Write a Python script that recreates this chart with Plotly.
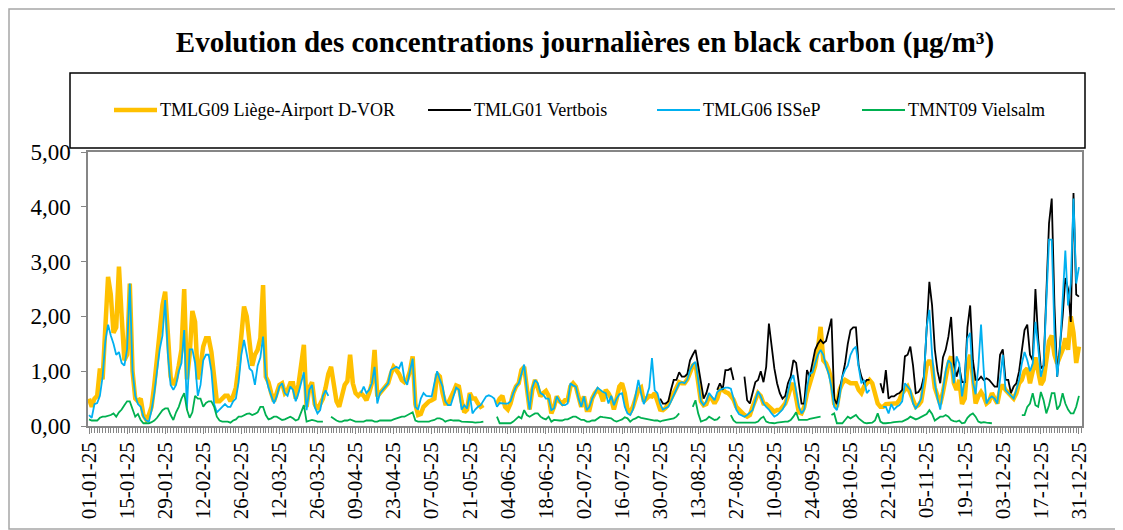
import pandas as pd
import plotly.graph_objects as go

# ── data: daily black carbon, 2025 (µg/m³) ─────────────────────────────────
DATES = pd.date_range("2025-01-01", "2025-12-31", freq="D")

SERIES_NAMES = [
    "TMLG09 Liège-Airport D-VOR",
    "TMLG01 Vertbois",
    "TMLG06 ISSeP",
    "TMNT09 Vielsalm",
]

LIEGE_AIRPORT = [
    0.5, 0.35, 0.5, 0.55, 1.05, 0.85, 1.8, 2.72, 2.4, 1.7, 1.8, 2.91, 2.0, 1.2, 1.3, 2.6, 1.0, 0.5, 0.45, 0.5, 0.2, 0.12, 0.2, 0.35, 0.75, 1.2, 1.6, 2.2, 2.45, 1.6, 0.9,
    0.75, 0.85, 1.1, 1.4, 2.5, 0.85, 1.3, 2.1, 1.9, 0.85, 1.1, 1.45, 1.6, 1.6, 1.35, 0.8, 0.45, 0.45, 0.5, 0.55, 0.55, 0.45, 0.55, 0.7, 1.1, 1.6, 2.18, 2.0,
    1.5, 1.1, 1.3, 1.39, 1.6, 2.57, 0.9, 0.8, 0.6, 0.45, 0.6, 0.75, 0.78, 0.6, 0.65, 0.78, 0.78, 0.5, 0.75, 1.2, 1.48, 0.35, 0.7, 0.8, 0.4, 0.3, 0.4, 0.5, 0.7, 0.95, 1.08,
    0.75, 0.45, 0.35, 0.6, 0.75, 0.82, 1.3, 0.78, 0.6, 0.55, 0.6, 0.55, 0.47, 0.6, 0.78, 1.39, 0.54, 0.6, 0.66, 0.72, 0.78, 0.95, 1.08, 1.02, 0.95, 0.84, 0.8, 0.85, 1.0, 1.27,
    0.4, 0.2, 0.22, 0.35, 0.4, 0.45, 0.47, 0.5, 0.95, 0.9, 0.6, 0.41, 0.41, 0.5, 0.62, 0.74, 0.72, 0.45, 0.25, 0.3, 0.6, 0.5, 0.5, 0.41, 0.35, 0.38, None, None, None, None, 0.4,
    0.5, 0.55, 0.35, 0.3, 0.41, 0.6, 0.72, 0.78, 1.02, 1.08, 0.6, 0.3, 0.66, 0.84, 0.7, 0.54, 0.6, 0.64, 0.55, 0.23, 0.35, 0.54, 0.45, 0.41, 0.47, 0.47, 0.72, 0.78, 0.72, 0.5,
    0.35, 0.54, 0.29, 0.29, 0.5, 0.6, 0.66, 0.6, 0.45, 0.66, 0.6, 0.5, 0.3, 0.5, 0.72, 0.78, 0.6, 0.3, 0.25, 0.35, 0.5, 0.66, 0.7, 0.45, 0.5, 0.55, 0.54, 0.6, 0.45, 0.3, 0.29,
    0.33, 0.4, 0.5, 0.6, 0.72, 0.8, 0.78, 0.78, 0.85, 1.0, 1.1, 1.14, 0.8, 0.45, 0.38, 0.4, 0.54, 0.5, 0.41, 0.5, 0.66, 0.66, 0.62, 0.6, 0.55, 0.48, 0.35, 0.29, 0.23, 0.2, 0.17,
    0.2, 0.35, 0.47, 0.6, 0.55, 0.41, 0.4, 0.35, 0.29, 0.26, 0.29, 0.29, 0.35, 0.41, 0.54, 0.7, 0.78, 0.45, 0.25, 0.23, 0.35, 0.6, 0.78, 0.9, 1.1, 1.4, 1.81, 1.2, 1.14, 1.02,
    0.84, 0.41, 0.35, 0.66, 0.78, 0.84, 0.8, 0.78, 0.78, 0.78, 0.66, 0.6, 0.72, 0.78, 0.84, 0.78, 0.6, 0.41, 0.35, 0.35, 0.4, 0.41, 0.41, 0.41, 0.41, 0.48, 0.6, 0.66, 0.72, 0.6, 0.47,
    0.35, 0.38, 0.45, 0.75, 1.1, 1.2, 1.1, 0.7, 0.55, 0.4, 0.62, 0.9, 1.14, 1.27, 0.78, 0.66, 0.84, 0.4, 0.5, 1.1, 1.3, 0.9, 0.41, 0.54, 0.62, 0.54, 0.41, 0.45, 0.6, 0.5,
    0.41, 0.66, 0.75, 0.66, 0.6, 0.54, 0.5, 0.6, 0.78, 0.84, 1.0, 1.05, 0.78, 1.0, 1.25, 1.0, 0.75, 0.84, 1.2, 1.55, 1.65, 1.3, 1.14, 1.27, 1.39, 1.6, 1.39, 2.0, 1.7, 1.15, 1.45,
]

VERTBOIS = [None] * 210 + [
    0.5, 0.41,
    0.41, 0.45, 0.66, 0.84, 0.84, 0.98, 0.9, 0.9, 0.95, 1.2, 1.3, 1.39, 1.1, 0.8, 0.5, 0.6, 0.78, None, None, 0.66, 0.78, 0.66, 1.02, 1.02, 1.05, 0.84, None, None, None, 0.9, 0.47,
    0.41, 0.6, 0.8, 0.84, 1.0, 0.8, 1.08, 1.87, 1.45, 1.05, 0.78, 0.6, 0.5, 0.55, 0.78, 0.9, 1.2, 1.15, 0.78, 0.41, 0.41, 1.02, 0.9, 1.14, 1.39, 1.5, 1.57, 1.51, 1.55, 1.75,
    1.96, 0.5, 0.4, 0.66, 0.9, 1.14, 1.5, 1.75, 1.8, 1.8, 1.1, 0.9, 0.78, 0.84, 0.84, None, None, None, 0.78, 0.6, 1.02, 0.5, 0.54, 0.54, 0.58, 0.6, 0.66, 1.27, 1.3, 1.45, 1.1,
    0.6, 0.62, 0.7, 0.9, 1.87, 2.63, 2.2, 1.4, 1.0, 0.78, 1.25, 1.39, 1.63, 1.99, 1.14, 0.9, 1.08, 0.8, 0.8, 1.8, 2.2, 1.2, 0.84, 0.84, 0.9, 0.84, 0.87, 0.84, 0.78, 0.72,
    0.72, 1.3, 1.4, 0.84, 0.84, 0.6, 0.72, 0.78, 1.0, 1.39, 1.75, 1.85, 1.3, 1.2, 2.5, 1.6, 1.05, 1.1, 2.6, 3.7, 4.15, 2.2, 0.9, 1.39, 2.0, 2.7, 2.5, 1.9, 4.25, 2.4, 2.36,
]

ISSEP = [
    0.2, 0.15, 0.4, 0.42, 0.55, 0.9, 1.55, 1.85, 1.65, 1.5, 1.3, 1.35, 1.15, 1.1, 1.4, 2.6, 1.0, 0.55, 0.4, 0.35, 0.17, 0.1, 0.08, 0.29, 0.6, 1.0, 1.4, 1.65, 2.3, 1.3, 0.75,
    0.66, 0.75, 1.0, 1.15, 1.75, 0.3, 1.4, 1.4, 1.15, 0.55, 0.75, 1.2, 1.3, 1.3, 1.0, 0.4, 0.25, 0.3, 0.35, 0.4, 0.35, 0.35, 0.45, 0.5, 0.8, 1.3, 1.57, 1.3,
    1.05, 1.0, 0.75, 1.1, 1.25, 1.63, 0.9, 0.7, 0.55, 0.41, 0.54, 0.72, 0.78, 0.6, 0.55, 0.72, 0.66, 0.45, 0.6, 0.8, 0.98, 0.29, 0.66, 0.75, 0.35, 0.23, 0.29, 0.55, 0.65, 0.55, None,
    None, None, None, None, None, None, None, None, None, None, 0.6, 0.72, 0.6, 0.66, 0.78, 1.08, 0.41, 0.6, 0.66, 0.72, 0.78, 1.02, 1.05, 1.08, 1.05, 1.17, 0.84, 0.75, 1.0, 1.23,
    0.35, 0.3, 0.5, 0.6, 0.55, 0.54, 0.54, 0.78, 1.0, 0.85, 0.72, 0.45, 0.38, 0.38, 0.54, 0.7, 0.66, 0.3, 0.38, 0.32, 0.58, 0.23, 0.3, 0.35, 0.38, 0.45, 0.54, 0.56, 0.54, 0.5, 0.35,
    0.42, 0.41, 0.41, 0.41, 0.45, 0.6, 0.72, 0.78, 0.95, 1.12, 0.66, 0.3, 0.7, 0.84, 0.78, 0.6, 0.57, 0.5, 0.5, 0.29, 0.32, 0.54, 0.45, 0.38, 0.38, 0.41, 0.78, 0.74, 0.72, 0.5,
    0.35, 0.54, 0.29, 0.35, 0.5, 0.6, 0.7, 0.66, 0.62, 0.6, 0.41, 0.55, 0.38, 0.5, 0.58, 0.6, 0.35, 0.23, 0.2, 0.3, 0.55, 0.84, 0.6, 0.4, 0.54, 0.7, 1.24, 0.65, 0.6, 0.41, 0.3,
    0.32, 0.35, 0.45, 0.55, 0.66, 0.78, 0.8, 0.78, 0.85, 1.02, 1.12, 1.17, 0.84, 0.45, 0.38, 0.45, 0.6, 0.54, 0.47, 0.62, 0.66, 0.68, 0.7, 0.7, 0.68, 0.5, 0.3, 0.22, 0.2, 0.17, 0.2,
    0.25, 0.29, 0.47, 0.63, 0.54, 0.41, 0.35, 0.3, 0.23, 0.17, 0.2, 0.26, 0.3, 0.4, 0.6, 0.84, 0.93, 0.6, 0.35, 0.23, 0.3, 0.7, 0.95, 0.98, 1.14, 1.3, 1.39, 1.3, 1.1, 0.95,
    0.7, 0.35, 0.29, 0.54, 0.9, 1.02, 1.1, 1.3, 1.4, 1.45, 1.08, 0.78, 0.84, 0.6, 0.66, None, None, None, None, 0.35, 0.35, 0.23, 0.4, 0.3, 0.35, 0.38, 0.45, 0.78, 0.72, 0.66, 0.41,
    0.32, 0.4, 0.5, 0.85, 1.8, 2.12, 1.3, 0.78, 0.5, 0.3, 0.66, 1.0, 1.2, 1.14, 0.78, 1.27, 1.14, 0.54, 0.84, 1.6, 1.7, 0.8, 0.58, 1.08, 1.85, 1.0, 0.41, 0.5, 0.54, 0.5,
    0.41, 0.84, 1.3, 0.66, 0.6, 0.54, 0.5, 0.66, 0.84, 1.14, 1.35, 1.2, 1.0, 1.14, 1.9, 1.45, 0.9, 1.1, 2.12, 3.4, 3.4, 1.7, 0.9, 1.39, 2.3, 3.2, 2.2, 2.6, 4.15, 2.6, 2.9,
]

VIELSALM = [
    0.12, 0.1, 0.1, 0.1, 0.15, 0.17, 0.17, 0.18, 0.2, 0.23, 0.17, 0.25, 0.3, 0.38, 0.45, 0.45, 0.3, 0.17, 0.22, 0.11, 0.05, 0.05, 0.05, 0.07, 0.1, 0.15, 0.23, 0.29, 0.32, 0.32, 0.2,
    0.11, 0.25, 0.35, 0.5, 0.6, 0.3, 0.15, 0.25, 0.55, 0.5, 0.5, 0.35, 0.42, 0.45, 0.45, 0.35, 0.17, 0.1, 0.08, 0.08, 0.08, 0.06, 0.1, 0.12, 0.17, 0.17, 0.2, 0.22,
    0.23, 0.2, 0.22, 0.25, 0.35, 0.35, 0.2, 0.12, 0.14, 0.17, 0.17, 0.14, 0.11, 0.12, 0.15, 0.17, 0.14, 0.1, 0.12, 0.25, 0.38, 0.08, 0.1, 0.11, 0.1, 0.08, 0.08, 0.08, None, None, 0.17,
    0.13, 0.1, 0.08, 0.08, 0.1, 0.1, 0.12, 0.1, 0.08, 0.08, 0.08, 0.08, 0.1, 0.1, 0.1, 0.08, 0.08, 0.1, 0.1, 0.1, 0.1, 0.1, 0.12, 0.14, 0.15, 0.17, 0.17, 0.2, 0.22, 0.25,
    0.1, 0.08, 0.08, 0.08, 0.08, 0.08, 0.1, 0.11, 0.14, 0.14, 0.12, 0.08, 0.1, 0.11, 0.1, 0.1, 0.1, 0.08, 0.08, 0.08, 0.08, 0.07, 0.06, 0.06, 0.07, 0.08, None, None, None, None, 0.17,
    0.05, 0.05, 0.05, 0.05, 0.05, 0.08, 0.12, 0.17, 0.14, 0.29, 0.2, 0.17, 0.2, 0.23, 0.23, 0.17, 0.14, 0.12, 0.17, 0.08, 0.11, 0.1, 0.1, 0.1, 0.12, 0.12, 0.14, 0.17, 0.17, 0.14,
    0.11, 0.11, 0.08, 0.08, 0.1, 0.1, 0.14, 0.17, 0.16, 0.15, 0.15, 0.14, 0.1, 0.08, 0.1, 0.12, 0.16, 0.14, 0.08, 0.12, 0.14, 0.17, 0.15, 0.14, 0.12, 0.11, 0.1, 0.1, 0.1, 0.08, 0.1,
    0.11, 0.12, 0.12, 0.14, 0.17, 0.23, None, None, None, None, 0.35, 0.47, 0.23, 0.08, 0.1, 0.12, 0.17, 0.14, 0.11, 0.12, 0.17, None, None, None, 0.2, 0.1, 0.06, 0.06, 0.05, 0.05, 0.05,
    0.05, 0.05, 0.06, 0.08, 0.14, 0.17, 0.08, 0.06, 0.05, 0.05, 0.06, 0.07, 0.08, 0.08, 0.08, 0.11, 0.17, 0.25, 0.11, 0.11, 0.11, 0.11, 0.13, 0.14, 0.14, 0.16, 0.17, None, None, None,
    0.2, 0.23, 0.05, 0.05, 0.05, 0.11, 0.17, 0.14, 0.17, 0.2, 0.14, 0.1, 0.06, 0.05, 0.05, 0.06, 0.1, 0.23, 0.08, 0.05, 0.05, 0.05, 0.06, 0.07, 0.08, 0.08, 0.08, 0.1, 0.13, 0.17, 0.14,
    0.12, 0.14, 0.17, 0.2, 0.22, 0.29, 0.22, 0.1, 0.13, 0.17, 0.17, 0.2, 0.17, 0.11, 0.09, 0.08, 0.1, 0.05, 0.06, 0.15, 0.2, 0.23, 0.17, 0.08, 0.06, 0.07, 0.06, 0.06, 0.05, None,
    None, None, None, None, None, None, None, None, None, 0.2, 0.2, 0.35, 0.41, 0.6, 0.38, 0.35, 0.62, 0.47, 0.23, 0.38, 0.6, 0.6, 0.3, 0.38, 0.6, 0.41, 0.3, 0.23, 0.23, 0.35, 0.55,
]

SERIES_VALUES = [LIEGE_AIRPORT, VERTBOIS, ISSEP, VIELSALM]
for vals in SERIES_VALUES:
    assert len(vals) == len(DATES), len(vals)

# ── styling (Excel-like) ────────────────────────────────────────────────────
SERIES_COLORS = ["#FFC000", "#000000", "#00B0F0", "#00B050"]
SERIES_WIDTHS = [4.5, 1.8, 1.8, 1.8]
FONT = "Liberation Serif, Times New Roman, serif"
AXIS_GREY = "#868686"

# the page body has an 8px margin, so the figure starts at screen (8, 8)
OFFSET = 8
W, H = 1123 - OFFSET, 530 - OFFSET
PL, PR, PT, PB = 88, 1082, 152, 426   # plot-area edges, screen pixels


def px(x):
    return (x - PL) / (PR - PL)


def py(y):
    return (PB - y) / (PB - PT)


fig = go.Figure()
for name, vals, color, width in zip(SERIES_NAMES, SERIES_VALUES, SERIES_COLORS, SERIES_WIDTHS):
    fig.add_trace(go.Scatter(
        x=DATES, y=vals, name=name, mode="lines",
        line=dict(color=color, width=width),
        connectgaps=False, showlegend=False,
    ))

shapes = [
    # outer chart frame
    dict(type="rect", xref="paper", yref="paper",
         x0=px(9), x1=px(1119), y0=py(529), y1=py(9),
         line=dict(color="#A6A6A6", width=1.5)),
    # legend box
    dict(type="rect", xref="paper", yref="paper",
         x0=px(70), x1=px(1085), y0=py(148), y1=py(73),
         line=dict(color="#000000", width=1.5)),
]
annotations = []
# manual legend: (sample line start, text start) in screen pixels
legend_pos = [(114, 158), (428, 472), (657, 701), (862, 906)]
for (lx, tx), name, color, width in zip(legend_pos, SERIES_NAMES, SERIES_COLORS, SERIES_WIDTHS):
    shapes.append(dict(type="line", xref="paper", yref="paper",
                       x0=px(lx), x1=px(lx + 43), y0=py(110), y1=py(110),
                       line=dict(color=color, width=width)))
    annotations.append(dict(xref="paper", yref="paper", x=px(tx), y=py(110),
                            text=name, showarrow=False, xanchor="left", yanchor="middle",
                            font=dict(family=FONT, size=18, color="#000000")))

fig.update_layout(
    width=W, height=H,
    margin=dict(l=PL - OFFSET, r=W + OFFSET - PR, t=PT - OFFSET, b=H + OFFSET - PB),
    paper_bgcolor="white", plot_bgcolor="white",
    separators=", ",
    font=dict(family=FONT, color="#000000"),
    title=dict(
        text="<b>Evolution des concentrations journalières en black carbon (µg/m³)</b>",
        x=0.5, xref="paper", xanchor="center",
        y=1 - (42 - OFFSET) / H, yref="container", yanchor="middle",
        font=dict(family=FONT, size=29, color="#000000"),
    ),
    shapes=shapes,
    annotations=annotations,
    showlegend=False,
)
fig.update_xaxes(
    type="date",
    range=["2024-12-31 15:00", "2026-01-01 03:00"],
    tick0="2025-01-01", dtick=14 * 86400000,
    tickformat="%d-%m-%y", tickangle=-90,
    tickfont=dict(family=FONT, size=21, color="#000000"),
    ticks="outside", ticklen=6, tickcolor=AXIS_GREY,
    minor=dict(ticks="outside", ticklen=5, tickcolor=AXIS_GREY,
               dtick=86400000, tick0="2025-01-01", showgrid=False),
    showline=True, linecolor=AXIS_GREY, linewidth=1.5, mirror=True,
    showgrid=False, zeroline=False,
)
fig.update_yaxes(
    range=[0, 5], dtick=1, tickformat=".2f",
    tickfont=dict(family=FONT, size=23, color="#000000"),
    ticks="outside", ticklen=5, tickcolor=AXIS_GREY,
    ticklabelstandoff=6,
    showline=True, linecolor=AXIS_GREY, linewidth=1.5, mirror=True,
    showgrid=False, zeroline=False,
)

fig.write_html("out.html")
